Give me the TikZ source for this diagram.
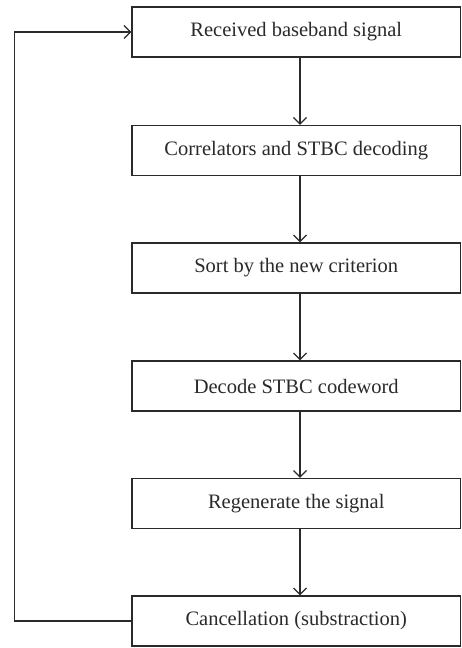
\documentclass[tikz,border=0pt]{standalone}
\usepackage{fontspec}
\setmainfont{Liberation Serif}
\usetikzlibrary{arrows.meta}
\definecolor{ink}{HTML}{2A2A2A}
\begin{document}
\begin{tikzpicture}[x=1pt,y=1pt,
  stepbox/.style={draw=ink, line width=1.3pt, text=ink, minimum width=328.5pt, minimum height=50pt,
    inner sep=0pt, font=\fontsize{20.5}{24}\selectfont},
  flow/.style={draw=ink, line width=1.2pt, -{Straight Barb[length=6.5pt,width=13pt,line width=1.2pt]}}]
\useasboundingbox (0,0) rectangle (461,648);
\node[stepbox] (b1) at (296.25,616) {Received baseband signal};
\node[stepbox] (b2) at (296.25,497.5) {Correlators and STBC decoding};
\node[stepbox] (b3) at (296.25,380) {Sort by the new criterion};
\node[stepbox] (b4) at (296.25,262) {Decode STBC codeword};
\node[stepbox] (b5) at (296.25,144.5) {Regenerate the signal};
\node[stepbox] (b6) at (296.25,27) {Cancellation (substraction)};
\coordinate (fbx) at (14.7,0);
\draw[flow] ([xshift=3.75pt]b1.south) -- ([xshift=3.75pt]b2.north);
\draw[flow] ([xshift=3.75pt]b2.south) -- ([xshift=3.75pt]b3.north);
\draw[flow] ([xshift=3.75pt]b3.south) -- ([xshift=3.75pt]b4.north);
\draw[flow] ([xshift=3.75pt]b4.south) -- ([xshift=3.75pt]b5.north);
\draw[flow] ([xshift=3.75pt]b5.south) -- ([xshift=3.75pt]b6.north);
\draw[flow] (b6.west) -- (b6.west -| fbx) |- (b1.west);
\end{tikzpicture}
\end{document}
